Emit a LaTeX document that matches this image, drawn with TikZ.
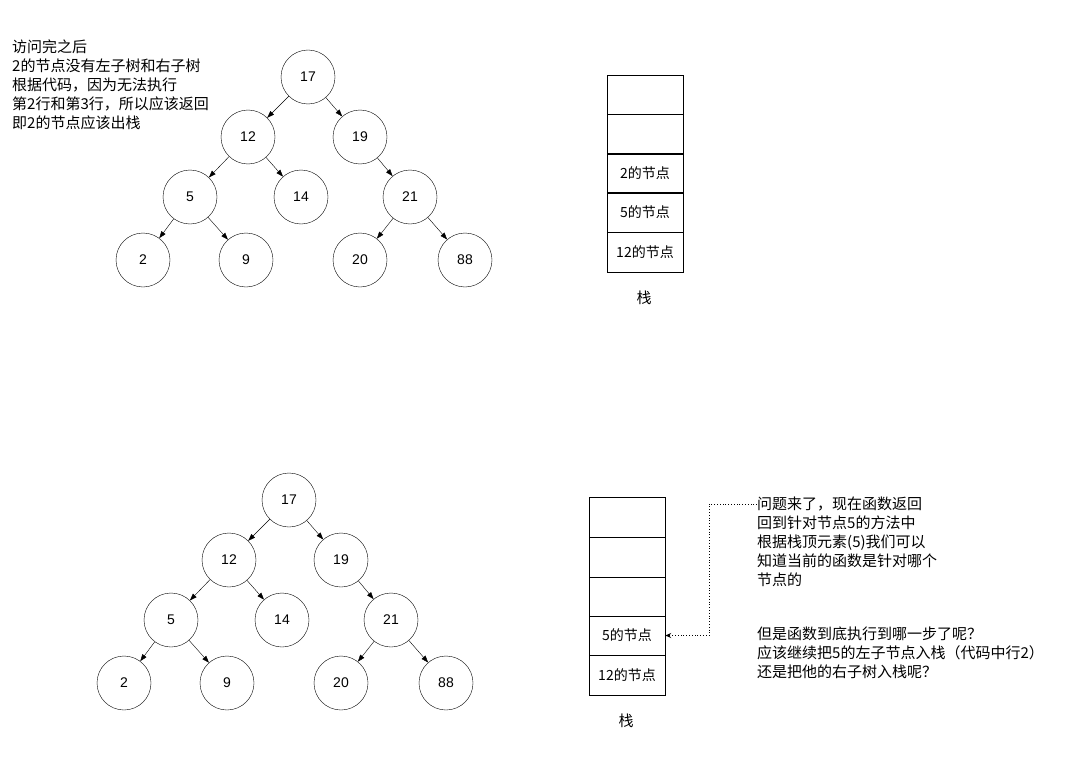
\documentclass[tikz,border=0pt]{standalone}
\usepackage{fontspec}
\setmainfont{Liberation Sans}
\newfontfamily\cjk{Noto Sans CJK SC}
\usetikzlibrary{arrows.meta}
\begin{document}
\begin{tikzpicture}[x=1pt,y=-1pt,font=\cjk\fontsize{15}{19}\selectfont,
  tn/.style={circle,draw,minimum size=54pt,inner sep=0pt,font=\fontsize{14}{16}\selectfont},
  ed/.style={-{Triangle[length=7pt,width=5pt]}},
  cell/.style={draw,minimum width=76pt,minimum height=39.5pt,inner sep=0pt,font=\cjk\fontsize{14}{16}\selectfont},
  txt/.style={anchor=north west,align=left,inner sep=0pt}]
\useasboundingbox (0,0) rectangle (1070,757);
\foreach \p/\ox/\oy in {a/0/0,b/-19/423}{
 \begin{scope}[shift={(\ox,\oy)}]
  \node[tn] (\p17) at (308,77) {17};
  \node[tn] (\p12) at (248,137) {12};
  \node[tn] (\p19) at (360,137) {19};
  \node[tn] (\p5) at (190,197) {5};
  \node[tn] (\p14) at (301,197) {14};
  \node[tn] (\p21) at (410,197) {21};
  \node[tn] (\p2) at (143,260) {2};
  \node[tn] (\p9) at (246,260) {9};
  \node[tn] (\p20) at (360,260) {20};
  \node[tn] (\p88) at (465,260) {88};
 \end{scope}
 \draw[ed] (\p17) -- (\p12); \draw[ed] (\p17) -- (\p19);
 \draw[ed] (\p12) -- (\p5); \draw[ed] (\p12) -- (\p14);
 \draw[ed] (\p19) -- (\p21);
 \draw[ed] (\p5) -- (\p2); \draw[ed] (\p5) -- (\p9);
 \draw[ed] (\p21) -- (\p20); \draw[ed] (\p21) -- (\p88);
}
\node[cell] (s1) at (645,94.5) {};
\node[cell] (s2) at (645,134) {};
\node[cell] (s3) at (645,173) {2的节点};
\node[cell] (s4) at (645,212) {5的节点};
\node[cell] (s5) at (645,252) {12的节点};
\node (st1) at (644,298) {栈};
\node[cell] (t1) at (627,517) {};
\node[cell] (t2) at (627,557) {};
\node[cell] (t3) at (627,596.5) {};
\node[cell] (t4) at (627,635.5) {5的节点};
\node[cell] (t5) at (627,675) {12的节点};
\node (st2) at (626,721) {栈};
\node[txt] (ta) at (12,40) {访问完之后\\2的节点没有左子树和右子树\\根据代码，因为无法执行\\第2行和第3行，所以应该返回\\即2的节点应该出栈};
\node[txt] (tb) at (757,497) {问题来了，现在函数返回\\回到针对节点5的方法中\\根据栈顶元素(5)我们可以\\知道当前的函数是针对哪个\\节点的};
\node[txt] (tc) at (757,627) {但是函数到底执行到哪一步了呢？\\应该继续把5的左子节点入栈（代码中行2）\\还是把他的右子树入栈呢？};
\coordinate (c1) at (757,504);
\draw[dotted,thick,-{Stealth[length=6pt,width=5pt,open]}] (c1) -- (709,504) |- (t4.east);
\end{tikzpicture}
\end{document}
